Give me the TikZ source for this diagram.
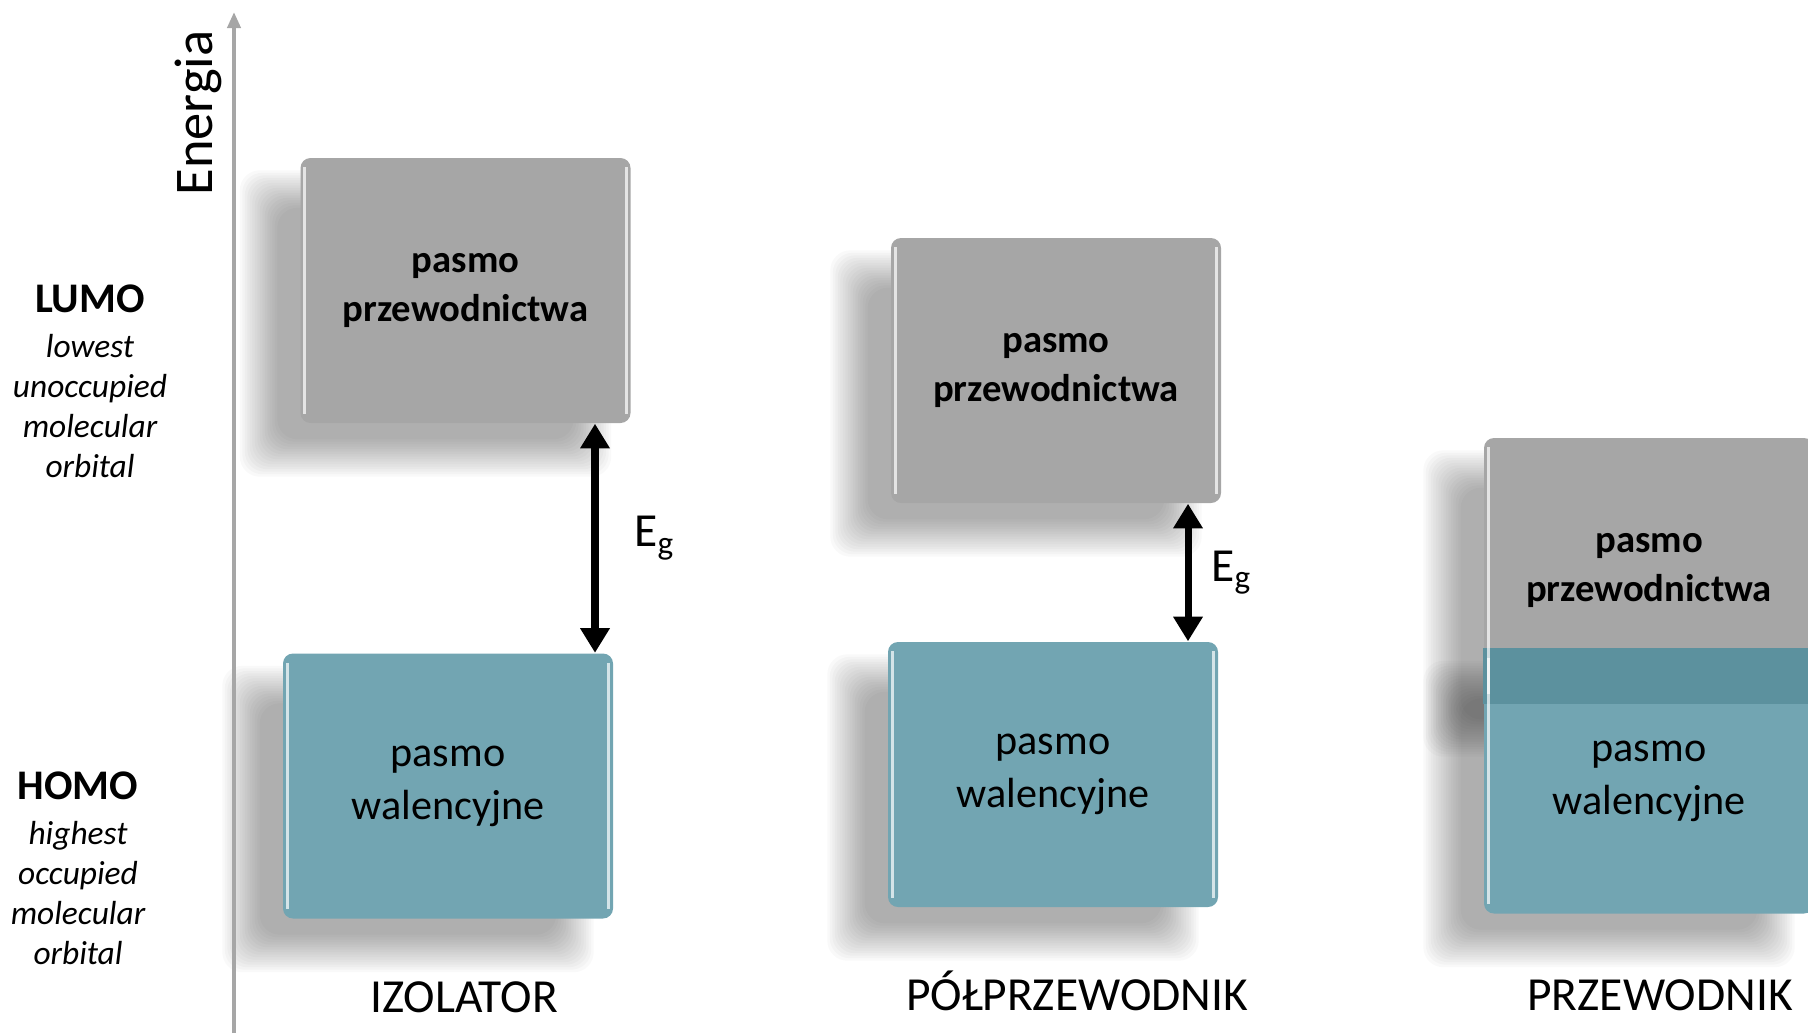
\documentclass[tikz,border=0pt]{standalone}
\usepackage{fontspec}
\setmainfont{Carlito}
\usepackage{tikz}
\usetikzlibrary{arrows.meta, positioning, calc, backgrounds}
\definecolor{bandgray}{RGB}{166,166,166}
\definecolor{bandteal}{RGB}{114,165,178}
\definecolor{bandtealdark}{RGB}{92,145,158}
\definecolor{axisgray}{RGB}{166,166,166}

\begin{document}
\begin{tikzpicture}[
    >={Triangle[length=7pt, width=8pt]},
    band/.style={rounded corners=0.1cm, minimum width=3.3cm, minimum height=2.65cm, align=center, inner sep=0pt},
    cband/.style={band, fill=bandgray, font=\bfseries\fontsize{11}{13.7}\selectfont},
    vband/.style={band, fill=bandteal, font=\fontsize{12}{15}\selectfont},
    gaparrow/.style={<->, line width=2pt},
    gaplabel/.style={font=\fontsize{13.5}{16}\selectfont, inner sep=0pt},
    material/.style={font=\fontsize{13.5}{16}\selectfont, anchor=base},
    orbname/.style={font=\bfseries\fontsize{12}{14}\selectfont},
    orbnote/.style={font=\itshape\fontsize{9.5}{11.4}\selectfont, align=center},
    gloss/.style={white, opacity=0.7, line width=0.8pt},
]
    \useasboundingbox (0,0) rectangle (18.08,-10.33);

    % Energy axis
    \coordinate (axisBot) at (2.34,-10.33);
    \coordinate (axisTop) at (2.34,-0.12);
    \draw[axisgray, line width=1.1pt, -{Triangle[length=0.16cm, width=0.13cm]}] (axisBot) -- (axisTop);
    \node[rotate=90, font=\fontsize{15.5}{18}\selectfont] (energia) at (1.98,-1.13) {Energia};

    % LUMO / HOMO
    \node[orbname] (lumo) at (0.90,-2.99) {LUMO};
    \node[orbnote] (lumoNote) at (0.90,-4.06) {lowest\\unoccupied\\molecular\\orbital};
    \node[orbname] (homo) at (0.78,-7.86) {HOMO};
    \node[orbnote] (homoNote) at (0.78,-8.93) {highest\\occupied\\molecular\\orbital};

    % Insulator
    \node[cband] (isoCB) at (4.655,-2.905) {pasmo\\przewodnictwa};
    \node[vband] (isoVB) at (4.48,-7.86) {pasmo\\walencyjne};

    % Semiconductor
    \node[cband] (scCB) at (10.56,-3.705) {pasmo\\przewodnictwa};
    \node[vband] (scVB) at (10.53,-7.745) {pasmo\\walencyjne};

    % Conductor (bands overlap)
    \node[cband] (condCB) at (16.49,-5.705) {pasmo\\przewodnictwa};
    \node[vband] (condVB) at (16.49,-7.81) {pasmo\\walencyjne};
    \fill[bandtealdark] (condVB.north west) rectangle (condCB.south east);

    % Glossy edges
    \foreach \b in {isoCB, isoVB, scCB, scVB, condCB, condVB} {
        \draw[gloss] ([xshift=0.05cm, yshift=-0.1cm]\b.north west) -- ([xshift=0.05cm, yshift=0.1cm]\b.south west);
        \draw[gloss] ([xshift=-0.05cm, yshift=-0.1cm]\b.north east) -- ([xshift=-0.05cm, yshift=0.1cm]\b.south east);
    }

    % Soft shadows
    \begin{scope}[on background layer]
        \foreach \b in {isoCB, isoVB, scCB, scVB, condCB, condVB} {
            \foreach \k in {0,...,15} {
                \fill[black, opacity=0.022, rounded corners=0.2cm]
                    ($(\b.south west)+(-0.40-0.2+\k*0.025, -0.33-0.2+\k*0.025)$) rectangle
                    ($(\b.north east)+(-0.40+0.2-\k*0.025, -0.33+0.2-\k*0.025)$);
            }
        }
    \end{scope}

    % Band gaps
    \coordinate (isoX) at (5.95,0);
    \draw[gaparrow] (isoVB.north -| isoX) -- (isoCB.south -| isoX)
        node[gaplabel, midway, right=0.36cm] (isoEg) {E\textsubscript{g}};
    \coordinate (scX) at (11.88,0);
    \draw[gaparrow] (scVB.north -| scX) -- (scCB.south -| scX)
        node[gaplabel, midway, right=0.2cm] (scEg) {E\textsubscript{g}};

    % Material names
    \node[material] (isoName) at (4.64,-10.12) {IZOLATOR};
    \node[material] (scName) at (10.77,-10.10) {PÓŁPRZEWODNIK};
    \node[material] (condName) at (16.60,-10.10) {PRZEWODNIK};
\end{tikzpicture}
\end{document}
